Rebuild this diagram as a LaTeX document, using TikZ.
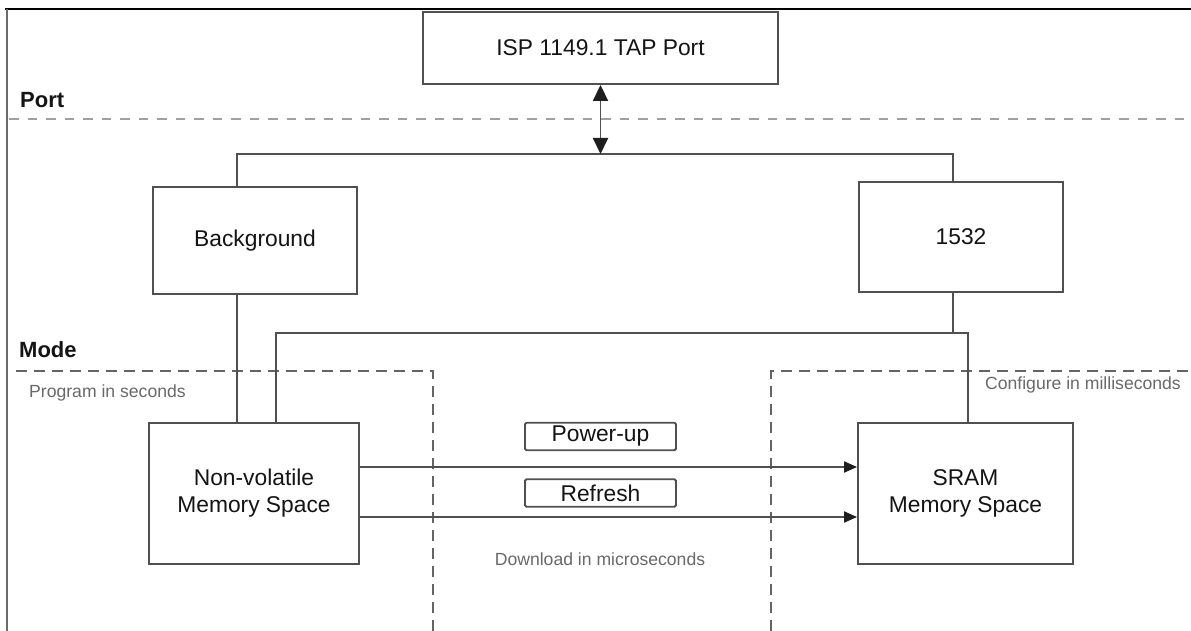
\documentclass[tikz,border=0pt]{standalone}
\usepackage{fontspec}
\setmainfont{Liberation Sans}
\usetikzlibrary{arrows.meta}
\definecolor{linecol}{RGB}{80,80,80}
\definecolor{txtcol}{RGB}{20,20,20}
\definecolor{tipcol}{RGB}{30,30,30}
\definecolor{softtxt}{RGB}{105,105,105}
\definecolor{portdash}{RGB}{160,160,160}
\definecolor{modedash}{RGB}{100,100,100}
\tikzset{
  box/.style={draw=linecol, line width=1.9pt, fill=white, text=txtcol, align=center,
    inner sep=0pt, font=\fontsize{22.8}{27}\selectfont},
  tag/.style={draw=linecol, line width=1.9pt, rounded corners=1.5pt, text=txtcol,
    inner sep=0pt, minimum width=151pt, minimum height=27.5pt, font=\fontsize{22.8}{27}\selectfont},
  wire/.style={draw=linecol, line width=1.9pt},
  flow/.style={wire, -{Triangle[length=13pt,width=11pt,color=tipcol]}},
  both/.style={wire, {Triangle[length=16pt,width=15pt,color=tipcol]}-{Triangle[length=16pt,width=15pt,color=tipcol]}},
  zonelabel/.style={text=txtcol, inner sep=0pt, font=\fontsize{22}{26}\selectfont\bfseries},
  note/.style={text=softtxt, inner sep=0pt, font=\fontsize{17.6}{21}\selectfont},
  portline/.style={draw=portdash, line width=2.2pt, dash pattern=on 9.5pt off 9pt},
  modeline/.style={draw=modedash, line width=1.5pt, dash pattern=on 11pt off 7pt},
}
\begin{document}
\begin{tikzpicture}[x=1pt, y=-1pt]
\useasboundingbox (0,0) rectangle (1191,631);
\fill[white] (0,0) rectangle (1191,631);

% outer frame: heavy top rule and thin left rule
\draw[black, line width=2.6pt] (5,9) -- (1191,9);
\draw[linecol!85!white, line width=2pt] (7,9) -- (7,631);

% zone separators
\draw[portline] (9,119) -- (1191,119);
\draw[modeline] (16,371) -- (433,371) -- (433,631);
\draw[modeline] (771,631) -- (771,371) -- (1191,371);

% zone labels and timing notes
\node[zonelabel, anchor=base west] (portlbl) at (20,108) {Port};
\node[zonelabel, anchor=base west] (modelbl) at (19,357) {Mode};
\node[note, anchor=base west] (prog) at (29,397) {Program in seconds};
\node[note, anchor=base east] (conf) at (1181,389) {Configure in milliseconds};
\node[note, anchor=base] (down) at (600,565) {Download in microseconds};

% blocks
\node[box, minimum width=355pt, minimum height=72pt] (tap) at (600.5,48) {ISP 1149.1 TAP Port};
\node[box, minimum width=204pt, minimum height=107pt] (bg) at (255,240.5) {Background};
\node[box, minimum width=204pt, minimum height=110pt] (ieee) at (961,237) {1532};
\node[box, minimum width=210pt, minimum height=141pt] (nv) at (254,493.5) {Non-volatile\\Memory Space};
\node[box, minimum width=215pt, minimum height=141pt] (sram) at (965.5,493.5) {SRAM\\Memory Space};
\node[tag] (pwr) at (600.5,436.5) {Power-up};
\node[tag] (ref) at (600.5,493) {Refresh};

% bus coordinates
\coordinate (busL) at (237,154);
\coordinate (busR) at (953,154);
\coordinate (cfgL) at (276,333);
\coordinate (cfgR) at (968,333);
\coordinate (pwrY) at (0,467);
\coordinate (refY) at (0,517);

% JTAG bus to both programming modes
\draw[wire] (bg.north -| busL) -- (busL) -- (busR) -- (ieee.north -| busR);
\draw[both] (tap.south) -- (tap.south |- busL);

% programming paths into the memories
\draw[wire] (bg.south -| busL) -- (nv.north -| busL);
\draw[wire] (ieee.south -| busR) -- (busR |- cfgR);
\draw[wire] (nv.north -| cfgL) -- (cfgL) -- (cfgR) -- (sram.north -| cfgR);

% download paths
\draw[flow] (nv.east |- pwrY) -- (sram.west |- pwrY);
\draw[flow] (nv.east |- refY) -- (sram.west |- refY);
\end{tikzpicture}
\end{document}
